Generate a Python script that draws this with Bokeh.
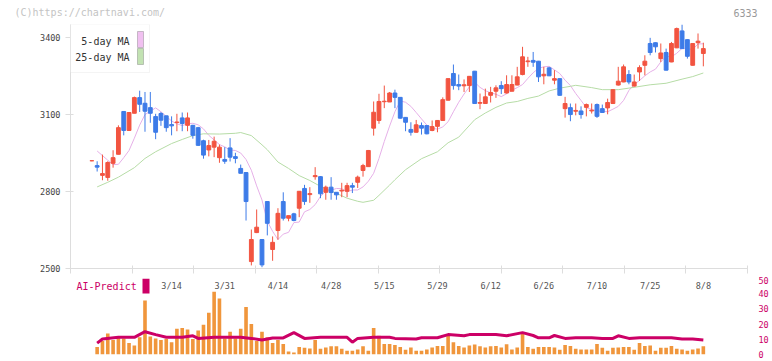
from bokeh.plotting import figure
from bokeh.layouts import column
from bokeh.models import (ColumnDataSource, FixedTicker, Label, LabelSet,
                          BoxAnnotation, Range1d)
from bokeh.core.properties import value
from bokeh.embed import file_html
from bokeh.resources import INLINE

# ---------------- data ----------------
opens = [2920, 2901, 2863, 2855, 2910, 2945, 3112, 3038, 3105, 3166,
         3144, 3127, 3092, 3104, 3095, 3061, 3069, 3087, 3058, 3058,
         3049, 2998, 2962, 2973, 2932, 2925, 2970, 2936, 2890, 2874,
         2527, 2640, 2613, 2761, 2574, 2648, 2761, 2696, 2713, 2735,
         2812, 2788, 2858, 2858, 2797, 2817, 2797, 2802, 2801, 2823,
         2836, 2882, 2897, 3047, 3077, 3150, 3149, 3184, 3167, 3089,
         3042, 3031, 3057, 3057, 3038, 3054, 3077, 3156, 3260, 3217,
         3212, 3213, 3269, 3144, 3143, 3175, 3191, 3213, 3184, 3191,
         3215, 3256, 3306, 3311, 3308, 3251, 3282, 3234, 3240, 3123,
         3127, 3113, 3114, 3128, 3114, 3139, 3123, 3126, 3143, 3215,
         3227, 3256, 3211, 3266, 3292, 3377, 3380, 3318, 3342, 3305,
         3360, 3426, 3392, 3292, 3380, 3338]
highs = [2922, 2918, 2944, 2918, 2961, 3058, 3112, 3110, 3170, 3193,
         3188, 3188, 3103, 3110, 3095, 3093, 3103, 3108, 3108, 3060,
         3052, 3002, 3001, 3014, 2983, 2973, 3008, 2951, 2905, 2876,
         2652, 2730, 2613, 2761, 2625, 2735, 2797, 2706, 2717, 2802,
         2826, 2817, 2895, 2860, 2823, 2856, 2798, 2834, 2834, 2834,
         2862, 2908, 2962, 3151, 3181, 3213, 3188, 3197, 3168, 3090,
         3070, 3079, 3069, 3058, 3077, 3078, 3167, 3241, 3295, 3256,
         3237, 3250, 3270, 3182, 3201, 3208, 3214, 3230, 3253, 3253,
         3286, 3364, 3325, 3344, 3309, 3286, 3286, 3273, 3241, 3169,
         3143, 3143, 3132, 3143, 3143, 3143, 3139, 3162, 3198, 3286,
         3295, 3273, 3256, 3292, 3331, 3399, 3381, 3377, 3357, 3383,
         3439, 3451, 3393, 3378, 3416, 3380]
lows = [2918, 2878, 2844, 2842, 2893, 2945, 3019, 3036, 3105, 3110,
        3033, 3068, 3004, 3056, 3033, 3019, 3035, 3035, 3035, 3006,
        2978, 2928, 2937, 2934, 2912, 2908, 2917, 2910, 2871, 2687,
        2512, 2638, 2505, 2629, 2530, 2612, 2687, 2684, 2684, 2700,
        2748, 2756, 2846, 2774, 2768, 2768, 2768, 2778, 2778, 2794,
        2814, 2858, 2897, 3018, 3064, 3125, 3149, 3125, 3084, 3035,
        3018, 3030, 3022, 3023, 3035, 3031, 3076, 3155, 3197, 3195,
        3188, 3188, 3142, 3121, 3142, 3147, 3165, 3180, 3182, 3190,
        3214, 3253, 3286, 3286, 3227, 3218, 3250, 3218, 3174, 3088,
        3074, 3097, 3084, 3093, 3104, 3087, 3107, 3101, 3142, 3213,
        3226, 3218, 3209, 3231, 3253, 3331, 3342, 3305, 3272, 3304,
        3359, 3356, 3318, 3291, 3357, 3288]
closes = [2920, 2895, 2870, 2913, 2932, 3049, 3038, 3108, 3166, 3140,
          3113, 3105, 3031, 3078, 3049, 3056, 3071, 3065, 3087, 3019,
          2980, 2942, 2979, 2996, 2973, 2918, 2934, 2929, 2871, 2761,
          2613, 2661, 2514, 2676, 2602, 2715, 2696, 2706, 2687, 2801,
          2761, 2792, 2862, 2791, 2817, 2796, 2787, 2805, 2823, 2817,
          2856, 2901, 2960, 3109, 3151, 3152, 3184, 3167, 3086, 3070,
          3031, 3060, 3047, 3025, 3053, 3077, 3158, 3240, 3213, 3211,
          3216, 3249, 3143, 3147, 3169, 3186, 3204, 3201, 3217, 3217,
          3247, 3325, 3309, 3304, 3247, 3257, 3251, 3240, 3175, 3143,
          3100, 3116, 3100, 3139, 3117, 3093, 3108, 3147, 3197, 3230,
          3286, 3227, 3227, 3283, 3308, 3342, 3364, 3340, 3273, 3377,
          3435, 3357, 3327, 3377, 3386, 3357]

# 5-day moving average, candles 1..115
ma5 = [2958, 2940, 2922, 2905, 2906, 2932, 2960, 3008, 3059,
       3100, 3113, 3126, 3111, 3093, 3075, 3064, 3057, 3064, 3066,
       3060, 3044, 3019, 3001, 2983, 2974, 2962, 2960, 2950, 2925,
       2883, 2822, 2767, 2684, 2645, 2613, 2634, 2641, 2679, 2681,
       2721, 2730, 2749, 2781, 2801, 2805, 2812, 2811, 2799, 2806,
       2806, 2818, 2840, 2871, 2929, 2995, 3055, 3111, 3153, 3148,
       3132, 3108, 3083, 3059, 3047, 3043, 3052, 3072, 3111, 3148,
       3180, 3208, 3226, 3206, 3193, 3185, 3179, 3170, 3181, 3195,
       3205, 3217, 3241, 3263, 3280, 3286, 3288, 3274, 3260, 3234,
       3213, 3182, 3155, 3127, 3120, 3114, 3113, 3111, 3121, 3132,
       3155, 3194, 3217, 3233, 3251, 3266, 3277, 3305, 3327, 3325,
       3339, 3358, 3356, 3354, 3375, 3376]

# 25-day moving average, read at these candle positions
ma25_idx = [1, 3, 5, 8, 10, 12, 15, 17, 19, 21, 24, 27, 28, 30, 32, 33, 35,
            37, 39, 41, 43, 46, 48, 50, 51, 53, 54, 56, 57, 59, 62, 65, 67,
            69, 72, 74, 76, 78, 80, 82, 84, 86, 88, 90, 91, 94, 96, 99, 101,
            105, 108, 111, 113, 115]
ma25_val = [2818, 2836, 2856, 2893, 2929, 2955, 2987, 3003, 3018, 3025, 3024,
            3027, 3030, 3018, 2982, 2963, 2915, 2890, 2862, 2843, 2820, 2793,
            2774, 2762, 2758, 2766, 2785, 2825, 2846, 2885, 2928, 2955, 2990,
            3012, 3080, 3106, 3128, 3145, 3151, 3163, 3172, 3192, 3203, 3210,
            3214, 3205, 3197, 3197, 3203, 3216, 3222, 3238, 3248, 3262]

# AI-Predict volume bars, candles 1..115
volume = [5.0, 8.8, 13.8, 9.6, 11.7, 10.6, 7.5, 6.0, 11.3, 35.6,
          11.9, 10.6, 9.6, 10.2, 8.1, 16.9, 17.5, 16.5, 10.2, 15.8,
          19.6, 27.5, 41.3, 36.9, 10.6, 15.0, 10.6, 16.9, 31.3, 20.0,
          8.8, 15.0, 11.3, 7.5, 9.6, 6.9, 1.9, 1.3, 5.0, 4.4,
          4.0, 9.6, 3.8, 4.6, 5.4, 5.4, 3.8, 2.5, 2.5, 3.3,
          5.4, 2.5, 17.5, 12.3, 6.9, 6.9, 6.3, 5.0, 3.1, 4.6,
          2.5, 2.5, 3.3, 4.6, 5.6, 5.6, 13.3, 8.1, 5.6, 4.6,
          6.0, 6.5, 5.4, 4.6, 5.4, 5.6, 4.6, 6.7, 3.3, 4.6,
          13.8, 5.0, 3.8, 5.0, 5.0, 5.0, 4.6, 3.1, 6.3, 5.6,
          3.8, 3.3, 3.3, 3.3, 6.9, 4.4, 2.5, 4.4, 4.6, 5.0,
          5.0, 3.1, 7.5, 5.6, 6.0, 2.5, 4.4, 4.4, 5.6, 3.8,
          3.3, 2.5, 3.3, 4.0, 5.4]

# AI-Predict line, read at these candle positions
ai_idx = [1, 2, 5, 8, 10, 12, 14, 17, 19, 20, 23, 28, 30, 32, 34, 36, 38, 40,
          43, 48, 49, 50, 53, 56, 57, 61, 62, 65, 67, 70, 71, 76, 78, 81, 83,
          84, 86, 87, 89, 91, 94, 96, 98, 99, 101, 103, 109, 111, 113, 115]
ai_val = [7.5, 10.2, 11.3, 11.3, 15.0, 13.1, 11.3, 11.3, 12.3, 10.6, 11.3,
          11.3, 10.6, 9.6, 10.9, 10.9, 14.4, 10.6, 11.3, 11.3, 8.1, 10.6,
          11.3, 11.3, 10.6, 10.2, 11.0, 11.0, 13.1, 12.3, 13.1, 13.1, 12.3,
          14.4, 12.5, 11.0, 11.0, 12.5, 10.6, 11.0, 11.0, 10.6, 10.6, 12.3,
          10.6, 11.0, 11.0, 10.2, 10.2, 9.6]

date_labels = ["3/14", "3/31", "4/14", "4/28", "5/15", "5/29",
               "6/12", "6/26", "7/10", "7/25", "8/8"]
date_idx = [15, 25, 35, 45, 55, 65, 75, 85, 95, 105, 115]
price_ticks = [2500, 2800, 3100, 3400]
volume_ticks = [0, 10, 20, 30, 40, 50]

# ---------------- styling ----------------
FONT = "DejaVu Sans Mono"
UP, DOWN = "#f25440", "#3d7be8"
MA5_C, MA25_C = "#e6b0e8", "#b6dca6"
VOL_C, AI_C = "#f0963c", "#cc0066"
AXIS_C = "#dddddd"

W = 771
B_LEFT, B_RIGHT = 70, 19
TICK_STEP = 11.574
X0 = -4.01
X1 = X0 + 11 * TICK_STEP

n = len(closes)
cand_idx = list(range(n))
colors = [UP if c >= o else DOWN for o, c in zip(opens, closes)]
src = ColumnDataSource(dict(x=cand_idx, open=opens, high=highs, low=lows,
                            close=closes, color=colors))

xr = Range1d(X0, X1)
scr = dict(left_units="screen", right_units="screen",
           top_units="screen", bottom_units="screen")

# ---------------- header strip ----------------
TH = 19
t = figure(width=W, height=TH, x_range=Range1d(0, 1), y_range=Range1d(0, 1),
           output_backend="svg", toolbar_location=None,
           x_axis_location=None, y_axis_location=None, min_border=0,
           min_border_left=0, min_border_right=0,
           min_border_top=0, min_border_bottom=0)
if "frame_align" in t.properties():
    t.frame_align = False
t.outline_line_color = None
t.grid.visible = False
t.add_layout(Label(x=14, y=TH - 12, x_units="screen", y_units="screen",
                   text="(C)https://chartnavi.com/", text_baseline="middle",
                   text_font=FONT, text_font_size="10px", text_color="#c4c4c4"))
t.add_layout(Label(x=757, y=TH - 12, x_units="screen", y_units="screen",
                   text="6333", text_align="right", text_baseline="middle",
                   text_font=FONT, text_font_size="10px", text_color="#999999"))

# ---------------- main candlestick panel ----------------
AH, A_TOP, A_BOT = 257, 5, 8
p = figure(width=W, height=AH, x_range=xr,
           y_range=Range1d(price_ticks[0], max(highs)),
           output_backend="svg", toolbar_location=None,
           min_border_left=B_LEFT, min_border_right=B_RIGHT,
           min_border_top=A_TOP, min_border_bottom=A_BOT)
p.outline_line_color = None
p.grid.visible = False

p.yaxis.ticker = FixedTicker(ticks=price_ticks)
p.yaxis.axis_line_color = AXIS_C
p.yaxis.major_tick_line_color = AXIS_C
p.yaxis.major_tick_in = 3
p.yaxis.major_tick_out = 5
p.yaxis.minor_tick_line_color = None
p.yaxis.major_label_standoff = 5
p.yaxis.major_label_text_font = FONT
p.yaxis.major_label_text_font_size = "8.5px"
p.yaxis.major_label_text_color = "#444444"

# bottom axis: tick marks only (minor ticks carry no labels)
p.xaxis.ticker = FixedTicker(ticks=[], minor_ticks=[X0 + k * TICK_STEP for k in range(12)])
p.xaxis.axis_line_color = AXIS_C
p.xaxis.major_tick_line_color = None
p.xaxis.minor_tick_line_color = AXIS_C
p.xaxis.minor_tick_in = 3
p.xaxis.minor_tick_out = 5
p.xaxis.major_label_standoff = 0

p.line(list(range(1, n)), ma5, line_color=MA5_C, line_width=1)
p.line(ma25_idx, ma25_val, line_color=MA25_C, line_width=1)

p.segment(x0="x", y0="low", x1="x", y1="high", source=src,
          line_color="color", line_width=1)
p.vbar(x="x", width=0.72, top="open", bottom="close", source=src,
       fill_color="color", line_color="color", line_width=1)

FH = AH - A_TOP - A_BOT  # frame height
p.add_layout(BoxAnnotation(left=0, right=79, top=FH, bottom=FH - 48,
                           fill_color="white", fill_alpha=1.0,
                           line_color="#dcdcdc", line_width=1, **scr))
p.add_layout(Label(x=59, y=FH - 17, x_units="screen", y_units="screen",
                   text="5-day MA", text_align="right", text_baseline="middle",
                   text_font=FONT, text_font_size="10px", text_color="#333333"))
p.add_layout(Label(x=59, y=FH - 33, x_units="screen", y_units="screen",
                   text="25-day MA", text_align="right", text_baseline="middle",
                   text_font=FONT, text_font_size="10px", text_color="#333333"))
p.add_layout(BoxAnnotation(left=67, right=73, top=FH - 7, bottom=FH - 23,
                           fill_color="#f0c0f0", fill_alpha=1.0,
                           line_color="#555555", line_width=1, **scr))
p.add_layout(BoxAnnotation(left=67, right=73, top=FH - 24, bottom=FH - 40,
                           fill_color="#c2e2b2", fill_alpha=1.0,
                           line_color="#555555", line_width=1, **scr))

# ---------------- AI-Predict panel ----------------
VHt, V_TOP, V_BOT = 84, 2, 6
v = figure(width=W, height=VHt, x_range=xr,
           y_range=Range1d(volume_ticks[0], volume_ticks[-1]),
           output_backend="svg", toolbar_location=None,
           x_axis_location=None, y_axis_location="right",
           min_border_left=B_LEFT, min_border_right=B_RIGHT,
           min_border_top=V_TOP, min_border_bottom=V_BOT)
v.outline_line_color = None
v.grid.visible = False
v.yaxis.ticker = FixedTicker(ticks=volume_ticks)
v.yaxis.axis_line_color = None
v.yaxis.major_tick_line_color = None
v.yaxis.minor_tick_line_color = None
v.yaxis.major_label_standoff = 5
v.yaxis.major_label_text_font = FONT
v.yaxis.major_label_text_font_size = "8.5px"
v.yaxis.major_label_text_color = AI_C

v.vbar(x=list(range(1, n)), top=volume, width=0.68, bottom=0,
       fill_color=VOL_C, line_color=None)
v.line(ai_idx, ai_val, line_color=AI_C, line_width=3)

VH = VHt - V_TOP - V_BOT
dsrc = ColumnDataSource(dict(x=date_idx, text=date_labels))
v.add_layout(LabelSet(x="x", y=VH - 7, y_units="screen", text="text",
                      source=dsrc, text_align="center", text_baseline="middle",
                      text_font=value(FONT), text_font_size=value("8.5px"),
                      text_color="#555555"))
v.add_layout(Label(x=6, y=VH - 8, x_units="screen", y_units="screen",
                   text="AI-Predict", text_baseline="middle",
                   text_font=FONT, text_font_size="10px", text_color=AI_C))
v.add_layout(BoxAnnotation(left=72, right=79, top=VH, bottom=VH - 15,
                           fill_color=AI_C, fill_alpha=1.0, line_color=None,
                           **scr))

layout = column(t, p, v)
open("out.html", "w").write(file_html(layout, INLINE))
